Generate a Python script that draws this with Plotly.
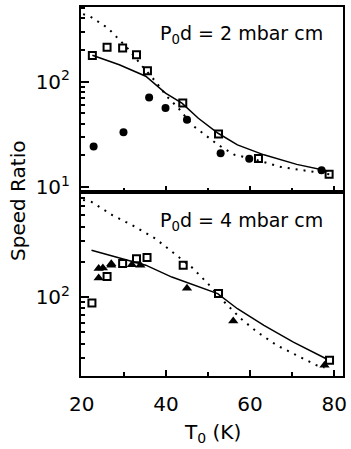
import plotly.graph_objects as go

# ---- Upper panel: P0d = 2 mbar cm ----
sq2_x = [22.5, 26.0, 29.7, 33.0, 35.6, 44.0, 52.5, 62.0, 78.8]
sq2_y = [178, 213, 210, 181, 127, 62.7, 31.8, 18.6, 13.2]
circ2_x = [22.8, 29.9, 36.0, 39.9, 45.0, 53.0, 59.8, 77.0]
circ2_y = [24.3, 33.2, 71, 56.2, 43.5, 20.9, 18.5, 14.4]
solid2_x = [22.5, 28.9, 35.2, 39.9, 43.8, 47.7, 52.4, 57.0, 63.3, 71.1, 78.5]
solid2_y = [179, 145, 113, 78, 62.6, 45, 32.4, 25.1, 20.2, 16.4, 14.2]
dot2_x = [20.3, 21.9, 26.2, 28.9, 31.2, 34.4, 37.5, 40.2, 43.0, 46.2, 49.3, 52.4, 56.3, 60.2, 67.3, 78.9]
dot2_y = [440, 420, 324, 251, 202, 140, 101, 72.6, 56, 38.9, 31.3, 25.1, 20.2, 18.7, 15.5, 13.2]

# ---- Lower panel: P0d = 4 mbar cm ----
sq4_x = [22.4, 26.0, 29.7, 33.0, 35.5, 44.1, 52.5, 78.9]
sq4_y = [88.9, 150, 193, 212, 217, 187, 107, 28.8]
tri4_x = [24.0, 25.0, 27.0, 24.0, 27.0, 31.9, 33.9, 45.0, 56.0, 77.7]
tri4_y = [175, 177, 187, 145, 192, 189, 187, 119, 62.4, 26.1]
solid4_x = [22.3, 29.7, 35.2, 41.4, 47.7, 52.3, 57.0, 63.3, 70.3, 78.1]
solid4_y = [251, 212, 187, 148, 122, 107, 79.4, 57.3, 41.2, 29.7]
dot4_x = [20.3, 22.3, 27.3, 32.0, 37.5, 42.2, 46.1, 50.0, 53.9, 57.8, 61.7, 66.4, 71.1, 75.8, 77.7]
dot4_y = [675, 649, 499, 410, 315, 234, 180, 130, 90.6, 65.3, 50.2, 38.6, 31.8, 26.1, 25.0]

FONT = "DejaVu Sans"
BLACK = "black"

fig = go.Figure()

def add_panel(xa, ya, sq_x, sq_y, pts_x, pts_y, pts_symbol, sol_x, sol_y, dot_x, dot_y):
    fig.add_trace(go.Scatter(x=dot_x, y=dot_y, mode="lines", xaxis=xa, yaxis=ya,
                             line=dict(color=BLACK, width=2, dash="2px,6px"),
                             showlegend=False, hoverinfo="skip"))
    fig.add_trace(go.Scatter(x=sol_x, y=sol_y, mode="lines", xaxis=xa, yaxis=ya,
                             line=dict(color=BLACK, width=1.5),
                             showlegend=False, hoverinfo="skip"))
    fig.add_trace(go.Scatter(x=pts_x, y=pts_y, mode="markers", xaxis=xa, yaxis=ya,
                             marker=dict(symbol=pts_symbol, size=9 if pts_symbol == "triangle-up" else 8,
                                         color=BLACK, line=dict(width=0)),
                             showlegend=False))
    fig.add_trace(go.Scatter(x=sq_x, y=sq_y, mode="markers", xaxis=xa, yaxis=ya,
                             marker=dict(symbol="square-open", size=7, color=BLACK,
                                         line=dict(width=2, color=BLACK)),
                             showlegend=False))

add_panel("x2", "y2", sq2_x, sq2_y, circ2_x, circ2_y, "circle",
          solid2_x, solid2_y, dot2_x, dot2_y)
add_panel("x", "y", sq4_x, sq4_y, tri4_x, tri4_y, "triangle-up",
          solid4_x, solid4_y, dot4_x, dot4_y)

# plot area in pixels
L, R, T, B = 81, 347, 7, 376
split = (B - 192) / float(B - T)

xcommon = dict(range=[19.8, 82.1], showgrid=False, zeroline=False,
               showline=True, linecolor=BLACK, linewidth=2, mirror=True,
               ticks="inside", ticklen=6, tickwidth=1.5, tickcolor=BLACK,
               tickvals=[20, 40, 60, 80],
               minor=dict(ticks="inside", ticklen=4, tickwidth=1.5, tickcolor=BLACK,
                          tickvals=[30, 50, 70]))

yminor_up = [20, 30, 40, 50, 60, 70, 80, 90, 200, 300, 400, 500]
yminor_lo = [30, 40, 50, 60, 70, 80, 90, 200, 300, 400, 500, 600, 700]
ycommon = dict(type="log", showgrid=False, zeroline=False,
               showline=True, linecolor=BLACK, linewidth=2, mirror=True,
               ticks="inside", ticklen=8, tickwidth=1.5, tickcolor=BLACK,
               tickfont=dict(family=FONT, size=20, color=BLACK),
               ticklabelstandoff=5)

fig.update_layout(
    width=351, height=449,
    margin=dict(l=L, r=351 - R, t=T, b=449 - B),
    paper_bgcolor="white", plot_bgcolor="white",
    font=dict(family=FONT, color=BLACK),
    xaxis=dict(**xcommon, domain=[0, 1], anchor="y", showticklabels=True,
               tickfont=dict(family=FONT, size=20, color=BLACK),
               ticklabelstandoff=9),
    xaxis2=dict(**xcommon, domain=[0, 1], anchor="y2", matches="x", showticklabels=False),
    yaxis=dict(**ycommon, domain=[0, split], anchor="x", range=[1.325, 2.897],
               tickvals=[100], ticktext=["10<sup>2</sup>"],
               minor=dict(ticks="inside", ticklen=4, tickwidth=1.5, tickcolor=BLACK,
                          tickvals=yminor_lo)),
    yaxis2=dict(**ycommon, domain=[split, 1], anchor="x2", range=[0.952, 2.711],
                tickvals=[10, 100], ticktext=["10<sup>1</sup>", "10<sup>2</sup>"],
                minor=dict(ticks="inside", ticklen=4, tickwidth=1.5, tickcolor=BLACK,
                           tickvals=yminor_up)),
)

def px_x(p):
    return (p - L) / float(R - L)

def px_y(p):
    return (B - p) / float(B - T)

annots = [
    dict(text="P<sub>0</sub>d = 2 mbar cm", x=px_x(244), y=px_y(35), xref="paper", yref="paper",
         xanchor="center", yanchor="middle", showarrow=False, font=dict(family=FONT, size=19, color=BLACK)),
    dict(text="P<sub>0</sub>d = 4 mbar cm", x=px_x(244), y=px_y(221), xref="paper", yref="paper",
         xanchor="center", yanchor="middle", showarrow=False, font=dict(family=FONT, size=19, color=BLACK)),
    dict(text="Speed Ratio", x=px_x(17), y=px_y(201), xref="paper", yref="paper",
         xanchor="center", yanchor="middle", textangle=-90, showarrow=False,
         font=dict(family=FONT, size=20, color=BLACK)),
    dict(text="T<sub>0</sub> (K)", x=px_x(214), y=px_y(433), xref="paper", yref="paper",
         xanchor="center", yanchor="middle", showarrow=False,
         font=dict(family=FONT, size=20, color=BLACK)),
]
fig.update_layout(annotations=annots)

fig.write_html("out.html")
